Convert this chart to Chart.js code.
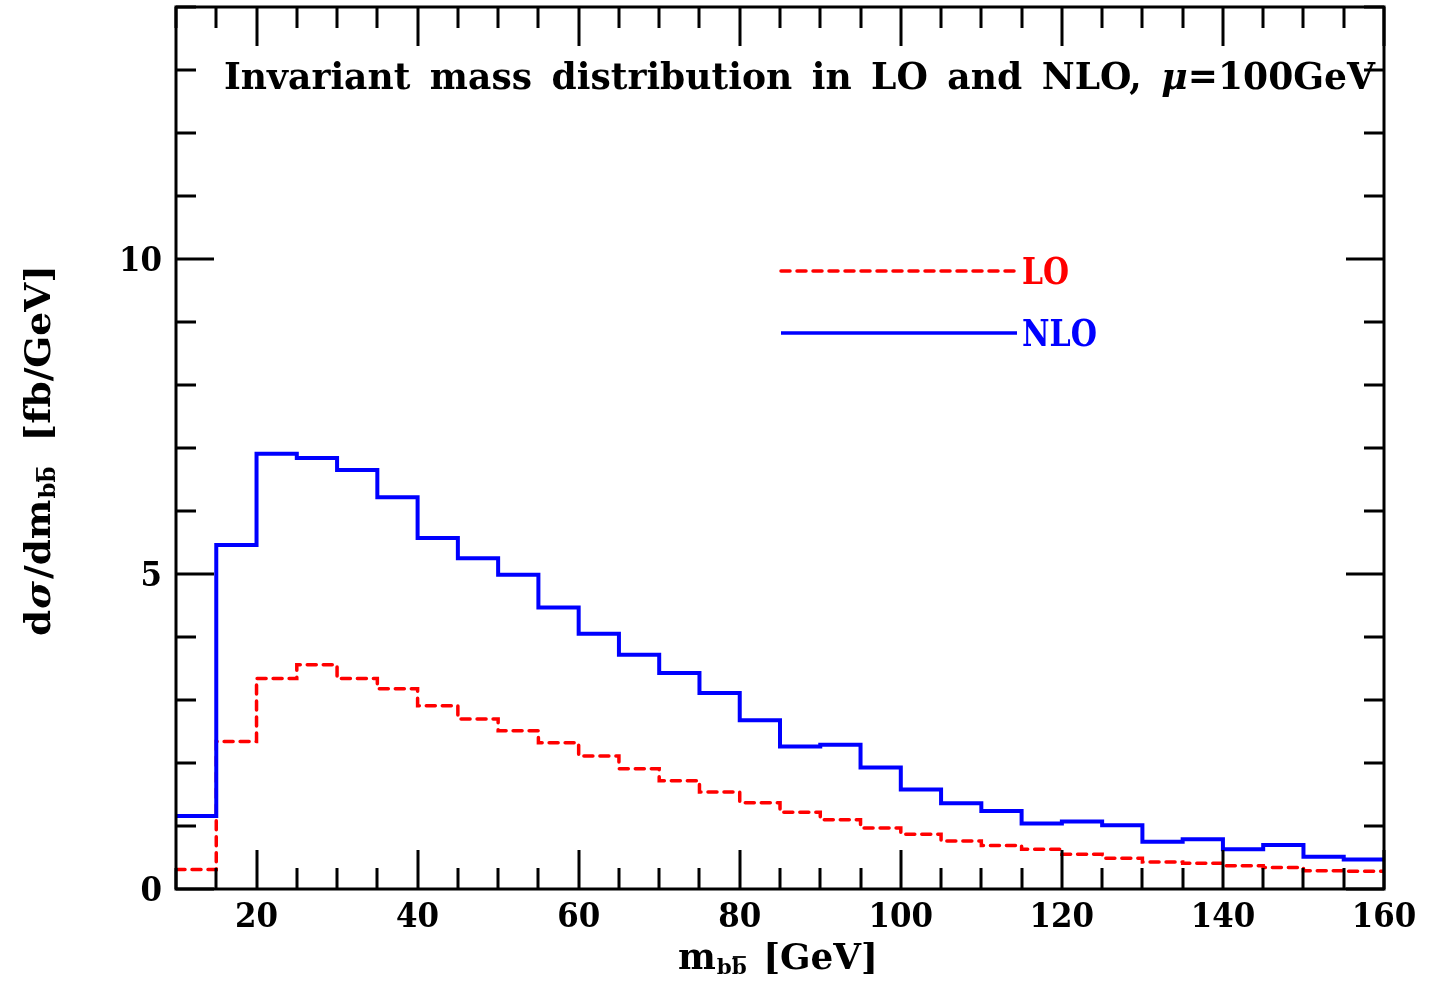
<!DOCTYPE html>
<html><head><meta charset="utf-8">
<script src="https://cdn.jsdelivr.net/npm/chart.js@4.4.1/dist/chart.umd.min.js"></script>
<style>html,body{margin:0;padding:0;background:#fff;overflow:hidden}#wrap{width:1440px;height:993px;position:relative}canvas{display:block}</style>
</head><body><div id="wrap"><canvas id="c" width="1440" height="993"></canvas></div>
<script>
// ---- data ----
const binStart = [10,15,20,25,30,35,40,45,50,55,60,65,70,75,80,85,90,95,100,105,110,115,120,125,130,135,140,145,150,155];
const binWidth = 5;
const nloValues = [1.16,5.46,6.91,6.84,6.65,6.22,5.57,5.25,4.99,4.47,4.05,3.72,3.43,3.11,2.68,2.26,2.29,1.93,1.58,1.36,1.24,1.04,1.07,1.01,0.75,0.79,0.63,0.70,0.51,0.47];
const loValues  = [0.31,2.34,3.34,3.56,3.34,3.18,2.91,2.70,2.51,2.32,2.11,1.91,1.72,1.54,1.37,1.22,1.10,0.97,0.87,0.76,0.69,0.63,0.55,0.49,0.43,0.41,0.37,0.34,0.29,0.28];
const xTickLabels = [20,40,60,80,100,120,140,160];
const yTickLabels = [0,5,10];
const seriesNames = ['LO','NLO'];
const titleWords = ['Invariant','mass','distribution','in','LO','and','NLO,'];

const FONT = '"DejaVu Serif", serif';
const RED = '#ff0000', BLUE = '#0000ff';

function stepPoints(vals){
  const pts = binStart.map((x,i)=>({x:x, y:vals[i]}));
  pts.push({x: binStart[binStart.length-1]+binWidth, y: vals[vals.length-1]});
  return pts;
}

// draw a sequence of text runs, fitted horizontally to targetW
function drawRuns(ctx, runs, x, y, targetW){
  let total = 0;
  runs.forEach(r=>{ ctx.font = r.font; r.w = ctx.measureText(r.t).width; total += (r.gap||0) + r.w; });
  const s = targetW ? targetW/total : 1;
  ctx.save();
  ctx.translate(x,y);
  ctx.scale(s,1);
  let cx = 0;
  runs.forEach(r=>{
    cx += (r.gap||0);
    ctx.font = r.font;
    ctx.fillStyle = r.color || '#000';
    ctx.textAlign = 'left';
    ctx.textBaseline = 'alphabetic';
    ctx.fillText(r.t, cx, r.dy||0);
    if (r.overLast){
      const last = r.t.slice(-1);
      const lw = ctx.measureText(last).width;
      const lx = cx + r.w - lw;
      ctx.beginPath();
      ctx.lineWidth = 1.8;
      ctx.strokeStyle = r.color || '#000';
      ctx.moveTo(lx+1, (r.dy||0) - r.overY);
      ctx.lineTo(lx+lw-1, (r.dy||0) - r.overY);
      ctx.stroke();
    }
    cx += r.w;
  });
  ctx.restore();
}

const decor = {
  id:'decor',
  afterDraw(chart){
    const ctx = chart.ctx, a = chart.chartArea;
    const xs = chart.scales.x, ys = chart.scales.y;
    ctx.save();
    // frame
    ctx.strokeStyle = '#000'; ctx.lineWidth = 3; ctx.lineCap = 'butt';
    ctx.strokeRect(a.left, a.top, a.right-a.left, a.bottom-a.top);
    // inward ticks
    ctx.beginPath();
    for (let v = xs.min; v <= xs.max + 1e-9; v += 5){
      const px = Math.round(xs.getPixelForValue(v));
      const L = (v % 20 === 0) ? 39 : 21;
      ctx.moveTo(px, a.bottom); ctx.lineTo(px, a.bottom - L);
      ctx.moveTo(px, a.top); ctx.lineTo(px, a.top + L);
    }
    for (let v = ys.min; v <= ys.max + 1e-9; v += 1){
      const py = Math.round(ys.getPixelForValue(v));
      const L = (v % 5 === 0) ? 38 : 20;
      ctx.moveTo(a.left, py); ctx.lineTo(a.left + L, py);
      ctx.moveTo(a.right, py); ctx.lineTo(a.right - L, py);
    }
    ctx.stroke();
    // tick labels (digit width ~21.5px, height ~24px)
    const tickFont = 'bold 34px ' + FONT;
    const DW = 21.5;
    xTickLabels.forEach(v=>{
      const s = String(v), w = s.length*DW;
      drawRuns(ctx, [{t:s, font:tickFont}], xs.getPixelForValue(v) - w/2, a.bottom + 38, w);
    });
    yTickLabels.forEach(v=>{
      const s = String(v), w = s.length*DW;
      drawRuns(ctx, [{t:s, font:tickFont}], a.left - 14 - w, ys.getPixelForValue(v) + 12, w);
    });

    // title inside plot
    const tf = 'bold 37px ' + FONT, tfi = 'italic bold 37px ' + FONT;
    const truns = titleWords.map((w,i)=>({t: w, font: tf, gap: i ? 20 : 0}));
    truns.push({t:'μ', font: tfi, gap: 20});
    truns.push({t:'=100GeV', font: tf, gap: 0});
    drawRuns(ctx, truns, 224, 89, 1151);

    // legend
    const legY = [271, 333];
    const legColors = [RED, BLUE];
    const legDash = [[9,7], []];
    const legLW = [3.5, 3.5];
    const legBase = [284, 346];
    const legW = [47, 75];
    for (let i=0;i<2;i++){
      ctx.save();
      ctx.beginPath();
      ctx.strokeStyle = legColors[i];
      ctx.lineWidth = legLW[i];
      ctx.lineCap = i===0 ? 'round' : 'butt';
      ctx.setLineDash(legDash[i]);
      ctx.moveTo(781, legY[i]); ctx.lineTo(1017, legY[i]);
      ctx.stroke();
      ctx.restore();
      drawRuns(ctx, [{t: seriesNames[i], font: 'bold 38px ' + FONT, color: legColors[i]}], 1022, legBase[i], legW[i]);
    }

    // x axis title
    drawRuns(ctx, [
      {t:'m', font:'bold 35px ' + FONT},
      {t:'bb', font:'bold 21px ' + FONT, dy:5, gap:1, overLast:true, overY:17},
      {t:'[GeV]', font:'bold 35px ' + FONT, gap:16}
    ], 678, 969, 200);

    // y axis title (rotated)
    ctx.save();
    ctx.translate(50, 636);
    ctx.rotate(-Math.PI/2);
    drawRuns(ctx, [
      {t:'d', font:'bold 36px ' + FONT},
      {t:'σ', font:'italic bold 36px ' + FONT, gap:1},
      {t:'/dm', font:'bold 36px ' + FONT, gap:2},
      {t:'bb', font:'bold 22px ' + FONT, dy:5, gap:1, overLast:true, overY:18},
      {t:'[fb/GeV]', font:'bold 36px ' + FONT, gap:24}
    ], 0, 0, 371);
    ctx.restore();
    ctx.restore();
  }
};

new Chart(document.getElementById('c'), {
  type: 'line',
  data: {
    datasets: [
      {label: seriesNames[1], data: stepPoints(nloValues), borderColor: BLUE, borderWidth: 4, stepped: true, pointRadius: 0, fill: false, borderCapStyle:'butt', borderJoinStyle:'miter'},
      {label: seriesNames[0], data: stepPoints(loValues), borderColor: RED, borderWidth: 3.5, borderDash: [9,7], borderCapStyle: 'round', stepped: true, pointRadius: 0, fill: false}
    ]
  },
  options: {
    responsive: false,
    animation: false,
    devicePixelRatio: 1,
    layout: {padding: {top: 7, right: 56, left: 0, bottom: 0}},
    plugins: {legend: {display: false}, tooltip: {enabled: false}},
    scales: {
      x: {type: 'linear', min: 10, max: 160,
          grid: {display: false, drawTicks: false}, border: {display: false},
          ticks: {display: false},
          afterBuildTicks: s => { s.ticks = xTickLabels.map(v=>({value:v})); },
          afterFit: s => { s.height = 104; }},
      y: {type: 'linear', min: 0, max: 14,
          grid: {display: false, drawTicks: false}, border: {display: false},
          ticks: {display: false},
          afterBuildTicks: s => { s.ticks = yTickLabels.map(v=>({value:v})); },
          afterFit: s => { s.width = 176; }}
    }
  },
  plugins: [decor]
});
</script>
</body></html>
